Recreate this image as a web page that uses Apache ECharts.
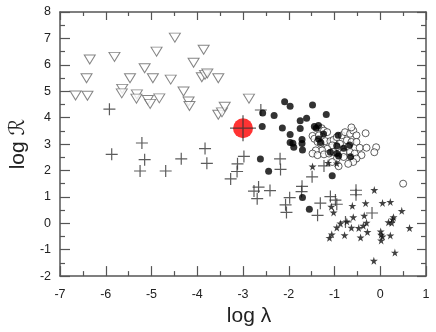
<!DOCTYPE html>
<html>
<head>
<meta charset="utf-8">
<script src="https://cdn.jsdelivr.net/npm/echarts@6/dist/echarts.min.js"></script>
<style>
  html, body { margin: 0; padding: 0; background: #fff; }
  #chart { width: 436px; height: 332px; }
</style>
</head>
<body>
<div id="chart"></div>
<script>
// open triangles (pointing down)
const triangles = [
  [-6.66, 4.84], [-6.42, 5.49], [-6.35, 6.20], [-6.40, 4.83], [-5.81, 6.30],
  [-5.64, 5.09], [-5.65, 4.92], [-5.47, 5.49], [-5.32, 4.88], [-5.33, 4.72],
  [-5.15, 5.87], [-5.08, 4.67], [-5.03, 4.52], [-4.97, 5.49], [-4.89, 6.50],
  [-4.83, 4.73], [-4.58, 5.44], [-4.49, 7.03], [-4.30, 4.99], [-4.19, 4.61],
  [-4.17, 4.44], [-4.08, 6.08], [-3.86, 6.57], [-3.90, 5.53], [-3.83, 5.62],
  [-3.78, 5.67], [-3.54, 5.49], [-3.54, 4.11], [-3.46, 4.20], [-3.40, 4.41],
  [-2.87, 4.72]
];
// crosses
const crosses = [
  [-5.92, 4.32], [-5.87, 2.61], [-5.21, 3.04], [-5.15, 2.41], [-5.25, 1.98],
  [-4.69, 1.98], [-4.35, 2.44], [-3.83, 2.83], [-3.79, 2.27], [-2.61, 4.29],
  [-2.98, 2.53], [-3.12, 2.25], [-3.13, 1.96], [-3.27, 1.68], [-2.19, 2.44],
  [-2.18, 2.04], [-2.76, 1.22], [-2.66, 1.37], [-2.69, 0.93], [-2.41, 1.24],
  [-1.98, 0.97], [-2.07, 0.70], [-2.05, 0.41], [-1.71, 1.40], [-1.72, 1.20],
  [-1.49, 1.76], [-1.31, 0.76], [-1.37, 0.30], [-1.23, 2.17], [-1.09, 1.01],
  [-0.98, 0.88], [-0.95, 0.72], [-0.53, 1.25], [-0.53, 1.08], [-0.76, 0.05],
  [-0.18, 0.39]
];
// filled circles
const filledDots = [
  [-2.09, 4.60], [-1.97, 4.43], [-1.48, 4.48], [-2.57, 4.18], [-2.32, 4.08],
  [-1.18, 4.12], [-2.58, 3.66], [-2.14, 3.61], [-1.75, 3.88], [-1.61, 3.98],
  [-1.75, 3.59], [-1.44, 3.66], [-1.40, 3.60], [-1.35, 3.70], [-1.97, 3.36],
  [-1.35, 3.19], [-1.24, 3.38], [-0.92, 3.33], [-1.97, 3.06], [-1.91, 3.03],
  [-1.89, 2.88], [-1.71, 3.17], [-1.71, 3.02], [-1.70, 2.77], [-1.30, 3.06],
  [-0.95, 2.94], [-1.09, 2.69], [-0.95, 2.64], [-0.91, 2.55], [-0.80, 2.84],
  [-0.67, 2.96], [-0.65, 2.52], [-2.62, 2.43], [-2.44, 1.97], [-1.05, 1.80],
  [-1.70, 0.98], [-1.55, 0.53]
];
// open circles
const openDots = [
  [-1.48, 3.31], [-1.44, 3.20], [-1.34, 3.33], [-1.28, 3.60], [-1.23, 3.51],
  [-1.16, 3.45], [-1.37, 3.08], [-1.30, 3.01], [-1.20, 3.11], [-1.09, 3.11],
  [-1.02, 3.16], [-0.95, 3.26], [-0.84, 3.33], [-0.77, 3.45], [-0.66, 3.39],
  [-0.59, 3.51], [-0.63, 3.63], [-0.52, 3.33], [-0.32, 3.41], [-0.73, 3.14],
  [-0.63, 3.08], [-0.52, 3.08], [-0.45, 2.86], [-0.30, 2.86], [-0.09, 2.88],
  [-0.13, 2.69], [-0.70, 2.89], [-0.88, 3.01], [-0.95, 2.89], [-1.05, 2.95],
  [-1.16, 2.82], [-1.27, 2.76], [-1.41, 2.76], [-1.48, 2.64], [-1.37, 2.58],
  [-1.23, 2.61], [-1.12, 2.64], [-1.02, 2.70], [-0.80, 2.70], [-0.66, 2.70],
  [-0.56, 2.64], [-0.41, 2.58], [-0.95, 2.45], [-0.80, 2.51], [-0.52, 2.45],
  [-0.59, 2.32], [-0.91, 2.16], [-1.05, 2.32], [-0.70, 2.25], [0.50, 1.50]
];
// stars
const stars = [
  [-1.48, 2.15], [-1.14, 2.29], [-0.95, 2.27], [-0.13, 1.26], [-1.07, 0.63],
  [-1.02, 0.41], [-0.95, -0.16], [-0.87, -0.01], [-0.73, 0.07], [-0.61, 0.66],
  [-0.32, 0.76], [0.05, 0.77], [0.22, 0.81], [0.47, 0.47], [-0.59, 0.23],
  [-0.35, 0.29], [-0.30, 0.02], [-0.37, -0.09], [-0.63, -0.17], [-0.47, -0.18],
  [-0.28, -0.33], [0.01, -0.31], [0.02, -0.43], [0.05, -0.50], [0.02, -0.65],
  [0.22, -0.46], [0.18, 0.04], [0.25, 0.02], [0.27, 0.15], [0.29, 0.23],
  [0.64, -0.18], [-1.11, -0.55], [-1.06, -0.42], [-0.78, -0.45], [-0.43, -0.54],
  [0.32, -1.11], [-0.14, -1.42]
];
// highlighted point
const highlight = [[-3.0, 3.6]];

const xTicks = { min: -7, max: 1, interval: 1 };
const yTicks = { min: -2, max: 8, interval: 1 };

const plusPath = 'path://M0,5L10,5M5,0L5,10';
const starPath = 'path://M50,0L61,35L98,35L68,57L79,91L50,70L21,91L32,57L2,35L39,35Z';

const axisCommon = {
  type: 'value',
  axisLine: { show: true, onZero: false, lineStyle: { color: '#555', width: 1.5 } },
  axisTick: { show: true, inside: true, length: 10, lineStyle: { color: '#555', width: 1.2 } },
  minorTick: { show: true, splitNumber: 2, length: 5, lineStyle: { color: '#555', width: 1.2 } },
  splitLine: { show: false },
  axisLabel: { color: '#222', fontSize: 12.5, fontFamily: 'Liberation Sans, Arial, sans-serif' },
  nameTextStyle: { color: '#222', fontSize: 21, fontFamily: 'Liberation Sans, DejaVu Sans, sans-serif' }
};

const chart = echarts.init(document.getElementById('chart'));
chart.setOption({
  animation: false,
  grid: { left: 52, right: 10, top: 12, bottom: 54 },
  xAxis: [
    Object.assign({}, axisCommon, xTicks, {
      position: 'bottom',
      name: 'log λ',
      nameLocation: 'middle',
      nameGap: 26,
      nameTextStyle: Object.assign({}, axisCommon.nameTextStyle, { padding: [0, 0, 0, 12] }),
      axisLabel: Object.assign({}, axisCommon.axisLabel, { margin: 12 })
    }),
    Object.assign({}, axisCommon, xTicks, {
      position: 'top',
      axisTick: Object.assign({}, axisCommon.axisTick, { length: 8 }),
      minorTick: Object.assign({}, axisCommon.minorTick, { length: 4 }),
      axisLabel: { show: false }
    })
  ],
  yAxis: [
    Object.assign({}, axisCommon, yTicks, {
      position: 'left',
      name: 'log ℛ',
      nameLocation: 'middle',
      nameGap: 30,
      axisLabel: Object.assign({}, axisCommon.axisLabel, { margin: 9 })
    }),
    Object.assign({}, axisCommon, yTicks, {
      position: 'right',
      axisTick: Object.assign({}, axisCommon.axisTick, { length: 9 }),
      minorTick: Object.assign({}, axisCommon.minorTick, { length: 5 }),
      axisLabel: { show: false }
    })
  ],
  series: [
    {
      type: 'scatter', data: triangles, symbol: 'triangle', symbolRotate: 180,
      symbolSize: [11, 9],
      itemStyle: { color: '#fff', borderColor: '#666', borderWidth: 1 }
    },
    {
      type: 'scatter', data: crosses, symbol: plusPath, symbolSize: 12,
      itemStyle: { color: 'transparent', borderColor: '#333', borderWidth: 1.2 }
    },
    {
      type: 'scatter', data: openDots, symbol: 'circle', symbolSize: 7,
      itemStyle: { color: '#fff', borderColor: '#222', borderWidth: 0.9 }
    },
    {
      type: 'scatter', data: filledDots, symbol: 'circle', symbolSize: 7,
      itemStyle: { color: '#000' }
    },
    {
      type: 'scatter', data: stars, symbol: starPath, symbolSize: 8,
      itemStyle: { color: '#111' }
    },
    {
      type: 'scatter', data: highlight, symbol: 'circle', symbolSize: 20,
      itemStyle: { color: '#f00' }
    },
    {
      type: 'scatter', data: highlight, symbol: plusPath, symbolSize: 26,
      itemStyle: { color: 'transparent', borderColor: '#333', borderWidth: 1.3 }
    }
  ]
});
</script>
</body>
</html>
